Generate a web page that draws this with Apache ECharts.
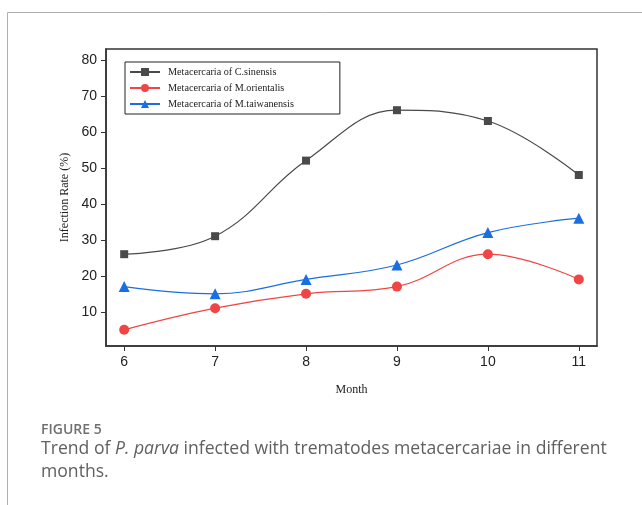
<!DOCTYPE html>
<html><head><meta charset="utf-8">
<style>html,body{margin:0;padding:0;background:#fff}#c{width:642px;height:505px}</style>
<script src="https://cdn.jsdelivr.net/npm/echarts@6/dist/echarts.min.js"></script>
</head><body><div id="c"></div>
<script>
const months = [6, 7, 8, 9, 10, 11];
const cSinensis = [26, 31, 52, 66, 63, 48];
const mOrientalis = [5, 11, 15, 17, 26, 19];
const mTaiwanensis = [17, 15, 19, 23, 32, 36];
const yTicks = [10, 20, 30, 40, 50, 60, 70, 80];
const seriesNames = ['Metacercaria of C.sinensis', 'Metacercaria of M.orientalis', 'Metacercaria of M.taiwanensis'];

const pair = arr => months.map((m, i) => [m, arr[i]]);
const chart = echarts.init(document.getElementById('c'));
chart.setOption({
  animation: false,
  backgroundColor: '#fff',
  graphic: [{
    type: 'polyline', silent: true,
    shape: { points: [[7.5, 505], [7.5, 12.5], [642, 12.5]] },
    style: { stroke: '#b0b0b0', lineWidth: 1, fill: null }
  }],
  title: [{
    text: 'FIGURE 5', left: 36, top: 418,
    textStyle: { fontFamily: 'Open Sans', fontSize: 14, fontWeight: 600, color: '#707070' }
  }, {
    text: 'Trend of {i|P. parva} infected with trematodes metacercariae in different\nmonths.',
    left: 36, top: 432,
    textStyle: {
      fontFamily: 'Open Sans', fontSize: 17.6, fontWeight: 'normal', color: '#606060', lineHeight: 23,
      rich: { i: { fontFamily: 'Open Sans', fontSize: 17.6, fontStyle: 'italic', color: '#606060' } }
    }
  }],
  grid: { left: 106, top: 49, right: 45, bottom: 159, show: true, borderColor: '#333', borderWidth: 1.5, backgroundColor: 'transparent' },
  legend: {
    orient: 'vertical', left: 125, top: 62,
    padding: [5, 46, 5, 4], itemGap: 6, itemWidth: 30, itemHeight: 10,
    borderColor: '#222', borderWidth: 1,
    data: seriesNames,
    textStyle: { fontFamily: 'Liberation Serif', fontSize: 10.2, color: '#222', padding: [0, 0, 0, 3] }
  },
  xAxis: {
    type: 'value', min: 5.8, max: 11.2,
    name: 'Month', nameLocation: 'middle', nameGap: 38,
    nameTextStyle: { fontFamily: 'Liberation Serif', fontSize: 12, color: '#222' },
    axisLine: { lineStyle: { color: '#333', width: 1.5 } },
    axisTick: { show: true, length: 5, lineStyle: { color: '#333' }, customValues: months },
    axisLabel: { customValues: months, fontFamily: 'Liberation Sans', fontSize: 14, color: '#222', margin: 9 },
    splitLine: { show: false }
  },
  yAxis: {
    type: 'value', min: 0.5, max: 83,
    name: 'Infection Rate (%)', nameLocation: 'middle', nameGap: 35, nameRotate: 90,
    nameTextStyle: { fontFamily: 'Liberation Serif', fontSize: 12, color: '#222' },
    axisLine: { show: true, lineStyle: { color: '#333', width: 1.5 } },
    axisTick: { show: true, length: 5, lineStyle: { color: '#333' }, customValues: yTicks },
    axisLabel: { customValues: yTicks, fontFamily: 'Liberation Sans', fontSize: 14, color: '#222', margin: 9 },
    splitLine: { show: false }
  },
  series: [{
    name: seriesNames[0], type: 'line', smooth: 0.4, data: pair(cSinensis),
    symbol: 'rect', symbolSize: 8, color: '#4a4a4a', lineStyle: { width: 1.2 }
  }, {
    name: seriesNames[1], type: 'line', smooth: 0.4, data: pair(mOrientalis),
    symbol: 'circle', symbolSize: 10, color: '#f04545', lineStyle: { width: 1.2 }
  }, {
    name: seriesNames[2], type: 'line', smooth: 0.4, data: pair(mTaiwanensis),
    symbol: 'triangle', symbolSize: 11, color: '#1a6ee0', lineStyle: { width: 1.2 }
  }]
});
</script></body></html>
